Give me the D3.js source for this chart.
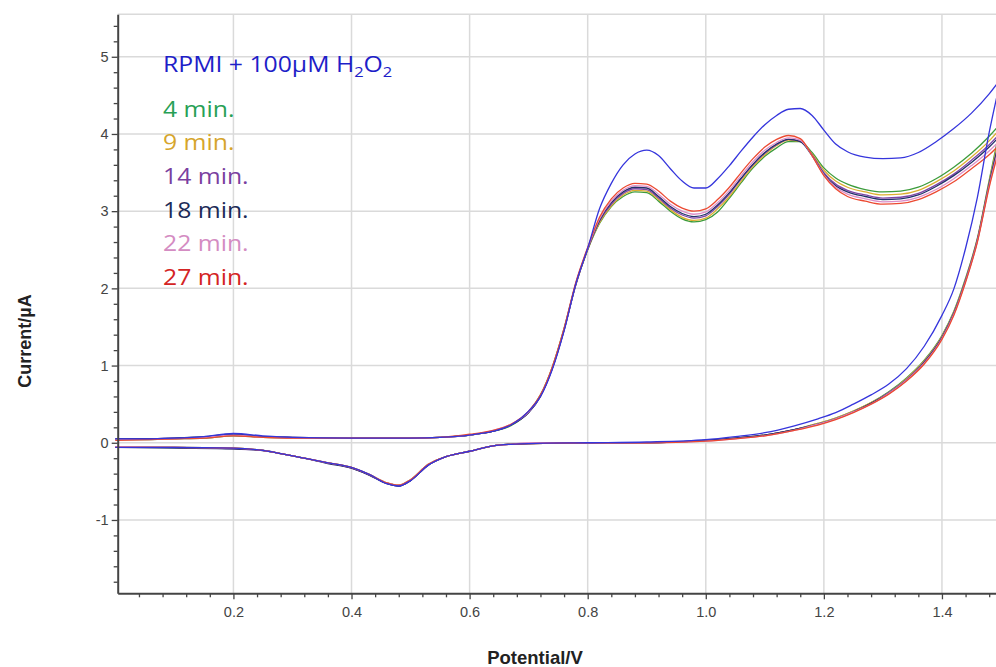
<!DOCTYPE html>
<html>
<head>
<meta charset="utf-8">
<script src="https://cdn.jsdelivr.net/npm/d3@7"></script>
<style>
  body { margin: 0; background: #fff; }
  svg { display: block; }
</style>
</head>
<body>
<svg id="ChartSpace"></svg>
<script>

// potential grids (V) for the forward (upper) and reverse (lower) sweep
const potentialFwd = [0, 0.05, 0.1, 0.15, 0.2, 0.25, 0.3, 0.4, 0.5, 0.55,
  0.6, 0.64, 0.67, 0.7, 0.72, 0.74, 0.76, 0.78, 0.8, 0.82,
  0.84, 0.86, 0.88, 0.9, 0.92, 0.94, 0.96, 0.98, 1.0, 1.02,
  1.04, 1.06, 1.08, 1.1, 1.12, 1.14, 1.16, 1.18, 1.2, 1.22,
  1.24, 1.27, 1.3, 1.33, 1.36, 1.39, 1.42, 1.45, 1.48, 1.5];

const potentialRev = [0, 0.1, 0.2, 0.25, 0.28, 0.32, 0.36, 0.4, 0.43, 0.46,
  0.48, 0.5, 0.53, 0.56, 0.6, 0.64, 0.67, 0.7, 0.8, 0.9,
  1.0, 1.05, 1.1, 1.15, 1.19, 1.22, 1.25, 1.28, 1.31, 1.34,
  1.37, 1.4, 1.42, 1.44, 1.46, 1.48, 1.5];

// currents (uA)
const fwdRPMI = [0.05,0.05,0.06,0.08,0.12,0.09,0.07,0.06,0.06,0.07,
  0.10,0.15,0.23,0.41,0.60,0.95,1.45,2.06,2.52,3.03,
  3.36,3.60,3.74,3.79,3.72,3.55,3.39,3.30,3.30,3.42,
  3.59,3.78,3.96,4.12,4.24,4.32,4.33,4.24,4.05,3.87,
  3.77,3.70,3.68,3.69,3.76,3.90,4.07,4.27,4.52,4.72];
const revRPMI = [-0.06,-0.06,-0.07,-0.10,-0.14,-0.20,-0.26,-0.32,-0.41,-0.53,
  -0.56,-0.49,-0.29,-0.18,-0.11,-0.04,-0.02,-0.01,0.00,0.01,
  0.04,0.08,0.13,0.22,0.31,0.39,0.50,0.62,0.76,0.96,
  1.25,1.65,1.99,2.52,3.18,4.02,4.72];

const fwd4 = [0.04,0.04,0.05,0.06,0.09,0.07,0.06,0.06,0.06,0.07,
  0.10,0.15,0.22,0.40,0.62,0.98,1.48,2.06,2.50,2.84,
  3.06,3.19,3.25,3.24,3.13,3.00,2.90,2.86,2.89,2.99,
  3.17,3.37,3.56,3.71,3.82,3.90,3.90,3.76,3.56,3.43,
  3.35,3.28,3.25,3.26,3.31,3.42,3.57,3.75,3.97,4.14];
const rev4 = [-0.06,-0.06,-0.07,-0.10,-0.14,-0.20,-0.26,-0.32,-0.41,-0.52,
  -0.55,-0.48,-0.28,-0.18,-0.11,-0.04,-0.02,-0.01,0.00,0.00,
  0.03,0.06,0.10,0.17,0.25,0.32,0.41,0.52,0.66,0.84,
  1.07,1.39,1.70,2.13,2.65,3.40,4.14];

const fwd9 = [0.04,0.04,0.05,0.07,0.10,0.07,0.06,0.06,0.06,0.07,
  0.10,0.15,0.23,0.40,0.61,0.97,1.47,2.05,2.50,2.85,
  3.07,3.21,3.27,3.26,3.15,3.02,2.92,2.88,2.91,3.03,
  3.19,3.39,3.58,3.73,3.85,3.92,3.90,3.74,3.53,3.39,
  3.31,3.25,3.21,3.22,3.27,3.38,3.52,3.70,3.91,4.08];
const rev9 = [-0.05,-0.06,-0.07,-0.10,-0.14,-0.20,-0.26,-0.32,-0.41,-0.52,
  -0.55,-0.48,-0.28,-0.18,-0.11,-0.04,-0.02,-0.01,0.00,0.00,
  0.03,0.06,0.10,0.17,0.25,0.32,0.41,0.52,0.65,0.83,
  1.06,1.38,1.69,2.12,2.64,3.38,4.08];

const fwd14 = [0.05,0.05,0.06,0.07,0.10,0.08,0.07,0.06,0.06,0.07,
  0.10,0.15,0.23,0.39,0.60,0.96,1.46,2.05,2.51,2.87,
  3.09,3.23,3.29,3.28,3.17,3.04,2.95,2.91,2.94,3.06,
  3.22,3.42,3.60,3.75,3.86,3.93,3.91,3.73,3.50,3.35,
  3.27,3.21,3.17,3.18,3.23,3.34,3.48,3.66,3.86,4.02];
const rev14 = [-0.06,-0.06,-0.08,-0.10,-0.14,-0.20,-0.26,-0.33,-0.42,-0.53,
  -0.56,-0.49,-0.29,-0.18,-0.11,-0.04,-0.02,-0.01,0.00,0.00,
  0.03,0.06,0.10,0.17,0.24,0.31,0.40,0.51,0.65,0.82,
  1.05,1.37,1.68,2.11,2.63,3.36,4.02];

const fwd18 = [0.05,0.05,0.06,0.08,0.11,0.08,0.07,0.06,0.06,0.07,
  0.10,0.15,0.23,0.39,0.60,0.96,1.46,2.06,2.51,2.88,
  3.11,3.25,3.31,3.30,3.19,3.06,2.97,2.93,2.96,3.08,
  3.24,3.43,3.61,3.76,3.87,3.93,3.90,3.72,3.48,3.33,
  3.25,3.19,3.15,3.16,3.21,3.32,3.46,3.63,3.83,3.99];
const rev18 = [-0.06,-0.07,-0.08,-0.10,-0.14,-0.20,-0.27,-0.33,-0.42,-0.53,
  -0.56,-0.49,-0.29,-0.18,-0.11,-0.04,-0.02,-0.01,0.00,0.00,
  0.03,0.06,0.10,0.17,0.24,0.31,0.40,0.51,0.64,0.81,
  1.04,1.36,1.67,2.10,2.62,3.35,3.99];

const fwd22 = [0.04,0.04,0.05,0.07,0.10,0.07,0.06,0.06,0.06,0.07,
  0.10,0.16,0.24,0.40,0.61,0.97,1.47,2.07,2.52,2.90,
  3.13,3.27,3.33,3.32,3.22,3.09,3.00,2.96,2.99,3.11,
  3.27,3.46,3.64,3.79,3.89,3.95,3.92,3.72,3.47,3.31,
  3.22,3.16,3.12,3.13,3.18,3.28,3.42,3.59,3.78,3.93];
const rev22 = [-0.05,-0.06,-0.07,-0.10,-0.14,-0.20,-0.26,-0.32,-0.41,-0.52,
  -0.55,-0.48,-0.28,-0.18,-0.11,-0.04,-0.02,0.00,0.00,0.00,
  0.02,0.05,0.09,0.16,0.24,0.31,0.40,0.50,0.64,0.81,
  1.03,1.35,1.66,2.09,2.61,3.33,3.93];

const fwd27 = [0.03,0.04,0.05,0.06,0.09,0.07,0.06,0.06,0.06,0.07,
  0.11,0.16,0.24,0.41,0.62,0.98,1.48,2.08,2.53,2.92,
  3.16,3.30,3.36,3.35,3.26,3.13,3.04,3.00,3.03,3.15,
  3.31,3.50,3.68,3.83,3.93,3.98,3.94,3.72,3.46,3.29,
  3.19,3.13,3.09,3.10,3.15,3.25,3.38,3.55,3.73,3.88];
const rev27 = [-0.06,-0.06,-0.07,-0.10,-0.14,-0.20,-0.26,-0.32,-0.41,-0.52,
  -0.55,-0.48,-0.28,-0.18,-0.11,-0.04,-0.02,-0.01,0.00,0.00,
  0.02,0.05,0.09,0.16,0.23,0.30,0.39,0.50,0.63,0.80,
  1.02,1.34,1.65,2.08,2.60,3.31,3.88];

// legend labels + colours
const timeLabels = ["4 min.", "9 min.", "14 min.", "18 min.", "22 min.", "27 min."];
const timeTextColors = ["#27a055", "#d6a52c", "#7a3f9f", "#1c2b58", "#d48cc2", "#d42424"];
const timeLineColors = ["#3c9c3c", "#dcae30", "#7f45a8", "#22306a", "#dc8ec8", "#ec4a32"];
const rpmiTextColor = "#1e1ec8";
const rpmiLineColor = "#3535dc";

// axis ticks
const xMajor = [0.2, 0.4, 0.6, 0.8, 1.0, 1.2, 1.4];
const yMajor = [-1, 0, 1, 2, 3, 4, 5];

const WidthTotal = 996;
const HeightTotal = 667;

const MySpace = d3.select("#ChartSpace")
  .attr("width", WidthTotal)
  .attr("height", HeightTotal);

// scales (plot runs off the right edge a bit, like the screenshot)
const x = d3.scaleLinear().domain([0.004, 1.5]).range([117.7, 1001]);
const y = d3.scaleLinear().domain([-1.95, 5.55]).range([593.3, 14.3]);

// minor ticks: every 0.04 V and every 0.2 uA, skipping the majors
const xMinor = d3.range(1, 38).filter(i => i % 5 !== 0).map(i => +(i * 0.04).toFixed(2));
const yMinor = d3.range(-9, 28).filter(i => i % 5 !== 0).map(i => +(i * 0.2).toFixed(1));

// grid
const grid = MySpace.append("g").attr("class", "grid")
  .attr("stroke", "#dadada").attr("stroke-width", 1.5);

grid.selectAll(".vline").data(xMajor).enter().append("line")
  .attr("x1", d => x(d)).attr("x2", d => x(d))
  .attr("y1", y(5.55)).attr("y2", y(-1.95));

grid.selectAll(".hline").data(yMajor.concat([5.55])).enter().append("line")
  .attr("x1", x(0.004)).attr("x2", WidthTotal)
  .attr("y1", d => y(d)).attr("y2", d => y(d));

// curves
const lineGen = d3.line()
  .x(d => x(d[0]))
  .y(d => y(d[1]))
  .curve(d3.curveMonotoneX);

const allSeries = [
  { fwd: fwd4, rev: rev4, color: timeLineColors[0] },
  { fwd: fwd9, rev: rev9, color: timeLineColors[1] },
  { fwd: fwd14, rev: rev14, color: timeLineColors[2] },
  { fwd: fwd18, rev: rev18, color: timeLineColors[3] },
  { fwd: fwd22, rev: rev22, color: timeLineColors[4] },
  { fwd: fwd27, rev: rev27, color: timeLineColors[5] },
  { fwd: fwdRPMI, rev: revRPMI, color: rpmiLineColor }
];

const curves = MySpace.append("g").attr("class", "curves");

allSeries.forEach(s => {
  const upper = potentialFwd.map((v, i) => [v, s.fwd[i]]);
  const lower = potentialRev.map((v, i) => [v, s.rev[i]]);
  [upper, lower].forEach(branch => {
    curves.append("path")
      .attr("d", lineGen(branch))
      .attr("fill", "none")
      .attr("stroke", s.color)
      .attr("stroke-width", 1.3)
      .attr("stroke-linejoin", "round");
  });
});

// axes
const axisColor = "#444";

const xAxisG = MySpace.append("g").attr("transform", `translate(0,${y(-1.95)})`);
xAxisG.call(d3.axisBottom(x).tickValues(xMinor).tickSize(4).tickSizeOuter(0).tickFormat(""));
xAxisG.call(g => g.select(".domain").remove());
const xMajorG = MySpace.append("g").attr("transform", `translate(0,${y(-1.95)})`)
  .call(d3.axisBottom(x).tickValues(xMajor).tickSize(6).tickSizeOuter(0)
    .tickPadding(7).tickFormat(d3.format(".1f")));

const yAxisG = MySpace.append("g").attr("transform", `translate(${x(0.004)},0)`);
yAxisG.call(d3.axisLeft(y).tickValues(yMinor).tickSize(4).tickSizeOuter(0).tickFormat(""));
yAxisG.call(g => g.select(".domain").remove());
// plain hyphen for the negative label, as in the original
const yMajorG = MySpace.append("g").attr("transform", `translate(${x(0.004)},0)`)
  .call(d3.axisLeft(y).tickValues(yMajor).tickSize(6).tickSizeOuter(0)
    .tickPadding(3).tickFormat(d => String(d)));

[xAxisG, xMajorG, yAxisG, yMajorG].forEach(g => {
  g.selectAll("line").attr("stroke", axisColor).attr("stroke-width", 1.3);
  g.selectAll(".domain").attr("stroke", axisColor).attr("stroke-width", 2);
  g.selectAll("text")
    .attr("fill", "#444")
    .style("font-family", "'Liberation Sans', Arial, sans-serif")
    .style("font-size", "14.5px");
});

// axis titles
MySpace.append("text")
  .attr("transform", "translate(31,341) rotate(-90)")
  .attr("text-anchor", "middle")
  .style("font-family", "'Liberation Sans', Arial, sans-serif")
  .style("font-size", "18px")
  .style("font-weight", "bold")
  .attr("fill", "#222")
  .text("Current/µA");

MySpace.append("text")
  .attr("x", 535).attr("y", 664)
  .attr("text-anchor", "middle")
  .style("font-family", "'Liberation Sans', Arial, sans-serif")
  .style("font-size", "18.5px")
  .style("font-weight", "bold")
  .attr("fill", "#222")
  .text("Potential/V");

// legend text (Calibri in the original; Open Sans stretched a little)
const legend = MySpace.append("g").attr("class", "legend")
  .style("font-family", "'Open Sans', sans-serif")
  .style("font-size", "21px");

const title = legend.append("text")
  .attr("transform", "translate(163,71.7) scale(1.18,1)")
  .attr("fill", rpmiTextColor);
title.append("tspan").text("RPMI + 100µM H");
title.append("tspan").attr("dy", 5).style("font-size", "14px").text("2");
title.append("tspan").attr("dy", -5).text("O");
title.append("tspan").attr("dy", 5).style("font-size", "14px").text("2");

legend.selectAll(".timeLabel")
  .data(timeLabels)
  .enter()
  .append("text")
    .attr("class", "timeLabel")
    .attr("transform", (d, i) => `translate(163,${116.7 + i * 33.6}) scale(1.18,1)`)
    .attr("fill", (d, i) => timeTextColors[i])
    .text(d => d);

</script>
</body>
</html>
